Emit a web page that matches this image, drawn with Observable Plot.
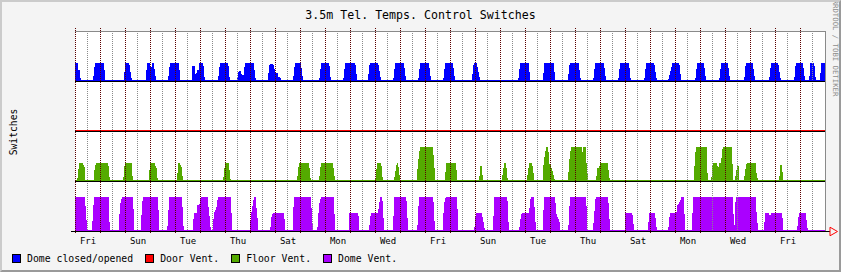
<!DOCTYPE html>
<html><head><meta charset="utf-8">
<script src="https://cdn.jsdelivr.net/npm/d3@7"></script>
<script src="https://cdn.jsdelivr.net/npm/@observablehq/plot@0.6"></script>
<style>
html,body{margin:0;padding:0;background:#fff}
#chart{position:relative;width:841px;height:272px;background:#f4f4f4;font-family:"DejaVu Sans Mono",monospace;overflow:hidden;color:#000}
#frame3d{position:absolute;left:0;top:0;width:841px;height:272px;box-sizing:border-box;border-top:2px solid #cbcbcb;border-left:2px solid #cbcbcb;border-right:2px solid #9a9a9a;border-bottom:2px solid #9a9a9a;pointer-events:none}
#title{position:absolute;left:0;top:5px;width:841px;text-align:center;font-size:11.6px;line-height:20px;white-space:nowrap}
#plot{position:absolute;left:0;top:22px}
#ylab{position:absolute;left:12.5px;top:131.5px;transform:translate(-50%,-50%) rotate(-90deg);font-size:9.7px;white-space:nowrap}
#wm{position:absolute;left:835px;top:48px;transform:translate(-50%,-50%) rotate(90deg);font-size:7.3px;color:#8c8c8c;white-space:nowrap}
#legend{position:absolute;left:12px;top:253px;display:flex;font-size:9.8px;line-height:12px;white-space:nowrap}
#legend .item{display:flex;align-items:flex-start;margin-right:12px}
#legend .sw{display:inline-block;width:9px;height:9px;box-sizing:border-box;border:1px solid #000;margin-top:1px;margin-right:6px}
</style></head>
<body>
<div id="chart">
  <div id="title">3.5m Tel. Temps. Control Switches</div>
  <div id="plot"></div>
  <div id="ylab">Switches</div>
  <div id="wm">RRDTOOL / TOBI OETIKER</div>
  <div id="legend"></div>
  <div id="frame3d"></div>
</div>
<script>
// time in days from the first Friday 00:00, value = switch level
const dayLabels = ["Fri","Sun","Tue","Thu","Sat","Mon","Wed","Fri","Sun","Tue","Thu","Sat","Mon","Wed","Fri"];
const labelDays = [0.5,2.5,4.5,6.5,8.5,10.5,12.5,14.5,16.5,18.5,20.5,22.5,24.5,26.5,28.5];

const domeClosedOpened = [
[0,1],[0.12,1],[0.13,0.6],[0.2,0.6],[0.21,0.15],[0.25,0],
[0.72,0],[0.8,1],[1.16,1],[1.21,0],
[1.96,0],[2.0,1],[2.17,1],[2.27,0],
[2.83,0],[2.88,1],[2.99,1],[3.0,0.8],[3.07,0.8],[3.08,1],[3.15,1],[3.24,0],
[3.72,0],[3.8,1],[4.16,1],[4.21,0],
[4.69,0],[4.7,0.83],[4.78,0.83],[4.79,0.39],[4.86,0.39],[4.87,0.61],[4.94,0.61],[4.95,1],[5.13,1],[5.19,0],
[5.72,0],[5.8,1],[6.13,1],[6.19,0],
[6.49,0],[6.52,0.4],[6.6,0.6],[6.68,0.3],[6.74,0.3],[6.76,0.6],[6.8,1],[7.15,1],[7.23,0],
[7.72,0],[7.76,0.8],[7.8,0.95],[7.92,0.95],[7.96,0.85],[8.0,0.45],[8.12,0.45],[8.13,0.2],[8.2,0.2],[8.24,0],
[8.72,0],[8.8,1],[9.04,1],[9.12,0],
[9.77,0],[9.85,1],[10.17,1],[10.23,0],
[10.73,0],[10.81,1],[11.21,1],[11.29,0],
[11.71,0],[11.79,1],[12.13,1],[12.24,0],
[12.73,0],[12.81,1],[13.16,1],[13.24,0],
[13.73,0],[13.81,1],[14.16,1],[14.24,0],
[14.73,0],[14.81,1],[15.12,1],[15.2,0],
[15.87,0],[15.95,1],[16.07,1],[16.2,0],
[17.73,0],[17.81,1],[18.16,1],[18.2,0],
[18.72,0],[18.77,1],[19.15,1],[19.21,0],
[19.71,0],[19.79,1],[20.15,1],[20.23,0],
[20.73,0],[20.81,1],[21.16,1],[21.24,0],
[21.73,0],[21.81,1],[22.16,1],[22.23,0],
[22.77,0],[22.85,1],[23.17,1],[23.27,0],
[23.73,0],[23.8,0.4],[23.89,1],[24.17,1],[24.25,0],
[24.81,0],[24.89,1],[25.16,1],[25.24,0],
[25.77,0],[25.85,1],[26.12,1],[26.2,0],
[26.77,0],[26.83,1],[27.11,1],[27.2,0],
[27.77,0],[27.84,1],[28.13,1],[28.23,0],
[28.77,0],[28.83,1],[29.12,1],[29.2,0],
[29.37,0],[29.41,1],[29.57,1],[29.63,0],
[29.8,0],[29.85,1],[30,1]
];

const doorVent = [[0,0],[30,0]];

const floorVent = [
[0,0],
[0.09,0],[0.13,0.55],[0.17,1],[0.33,1],[0.35,0.8],[0.41,0.8],[0.42,0],
[0.74,0],[0.77,0.5],[0.83,1],[1.33,1],[1.36,0.5],[1.39,0],
[1.93,0],[1.99,1],[2.27,1],[2.31,0],
[2.95,0],[3.0,1],[3.21,1],[3.23,0.7],[3.27,0.7],[3.28,0.2],[3.33,0],
[4.07,0],[4.1,0.4],[4.13,1],[4.21,1],[4.23,0.8],[4.27,0.8],[4.29,0.3],[4.33,0],
[5.93,0],[6.0,1],[6.16,1],[6.2,0.2],[6.23,0],
[8.88,0],[8.96,1],[9.36,1],[9.43,0],
[9.76,0],[9.84,1],[10.32,1],[10.4,0],
[12.01,0],[12.09,1],[12.25,1],[12.31,0],
[12.76,0],[12.83,0.6],[12.87,1],[12.92,1],[12.96,0.6],[13.0,0],
[13.66,0],[13.72,1],[13.8,2],[14.31,2],[14.37,1],[14.41,0],
[14.8,0],[14.84,1],[15.24,1],[15.29,0],
[16.16,0],[16.2,0.5],[16.22,0.85],[16.28,0.85],[16.31,0],
[17.07,0],[17.13,0.6],[17.17,1],[17.24,1],[17.27,0.6],[17.31,0],
[18.07,0],[18.13,0.6],[18.17,1],[18.28,1],[18.33,0.6],[18.36,0],
[18.71,0],[18.72,0.6],[18.77,1.3],[18.85,2],[18.93,2],[18.96,1],[19.04,0.85],[19.12,0.4],[19.19,0],
[19.72,0],[19.76,1],[19.84,2],[20.28,2],[20.3,1.7],[20.32,1.7],[20.34,2],[20.43,2],[20.45,1.2],[20.52,0],
[20.85,0],[20.88,0.7],[20.97,0.75],[21.01,1],[21.32,1],[21.35,0.4],[21.39,0],
[24.75,0],[24.77,0.6],[24.81,1.5],[24.84,2],[25.27,2],[25.29,0.6],[25.33,0],
[25.44,0],[25.47,0.3],[25.51,1],[25.69,1],[25.72,0.55],[25.76,1],[25.84,1],[25.87,1.5],[25.91,2],[26.29,2],[26.31,0],
[26.4,0],[26.44,0.45],[26.5,0.85],[26.53,1],[26.56,0.6],[26.58,0],
[26.76,0],[26.8,0.5],[26.87,1],[27.24,1],[27.26,0.4],[27.32,0],
[28.16,0],[28.2,0.5],[28.22,0.9],[28.28,0.9],[28.3,0.5],[28.32,0],
[30,0]
];

const domeVent = [
[0,2],[0.41,2],[0.43,0.9],[0.47,0.5],[0.49,0],
[0.69,0],[0.71,1],[0.77,2],[1.35,2],[1.37,0.7],[1.4,0],
[1.74,0],[1.77,0.8],[1.83,1.8],[1.92,2],[2.3,2],[2.33,1.7],[2.37,0],
[2.63,0],[2.68,1.5],[2.72,2],[3.32,2],[3.35,0.8],[3.37,0],
[3.69,0],[3.73,1],[3.78,2],[4.28,2],[4.3,1.4],[4.33,0.5],[4.35,0],
[4.7,0],[4.73,0.5],[4.76,1],[4.89,1],[4.9,1.5],[4.97,1.5],[5.04,2],[5.31,2],[5.33,1.5],[5.39,0.7],[5.43,0],
[5.52,0],[5.55,1],[5.65,1.3],[5.72,2],[6.22,2],[6.26,1],[6.3,0],
[7.0,0],[7.03,0.8],[7.11,1.5],[7.16,2],[7.23,2],[7.27,1.1],[7.31,0.6],[7.33,0],
[7.81,0],[7.87,0.9],[7.93,1],[8.36,1],[8.39,0.5],[8.4,0],
[8.72,0],[8.75,2],[9.44,2],[9.47,1],[9.52,0],
[9.69,0],[9.74,1],[9.76,1.5],[9.84,2],[10.36,2],[10.4,0],
[10.97,0],[10.98,1],[11.33,1],[11.36,0.5],[11.37,0],
[11.75,0],[11.8,0.5],[11.83,1],[12.12,1],[12.17,1.6],[12.22,2],[12.28,2],[12.32,1.5],[12.36,0],
[12.72,0],[12.77,2],[13.25,2],[13.29,1],[13.33,0],
[13.69,0],[13.76,2],[14.33,2],[14.37,0.8],[14.4,0],
[14.72,0],[14.75,1.5],[14.83,2],[15.27,2],[15.31,1],[15.33,0],
[15.97,0],[16.03,1],[16.27,1],[16.32,0.6],[16.37,0.3],[16.39,0],
[16.72,0],[16.77,2],[17.29,2],[17.33,1],[17.35,0],
[17.77,0],[17.81,0.6],[17.87,1],[18.15,1],[18.2,1.5],[18.23,2],[18.35,2],[18.4,1],[18.44,0],
[18.7,0],[18.75,1.5],[18.77,2],[19.2,2],[19.25,1],[19.38,0.5],[19.42,0],
[19.73,0],[19.8,2],[20.43,2],[20.47,1.3],[20.5,0],
[20.72,0],[20.77,1],[20.83,2],[21.32,2],[21.37,1],[21.4,0],
[21.98,0],[22.0,1],[22.29,1],[22.33,0.5],[22.37,0],
[22.9,0],[22.95,0.6],[22.97,1],[23.19,1],[23.24,0.5],[23.27,0],
[23.73,0],[23.77,0.7],[23.81,1],[24.05,1],[24.1,1.5],[24.2,1.7],[24.27,2],[24.36,2],[24.4,0],
[24.67,0],[24.73,2],[25.7,2],[25.72,1.3],[25.74,2],[26.32,2],[26.35,0.5],[26.38,0.3],[26.4,1.5],[26.45,2],[27.23,2],[27.27,0.8],[27.33,0],
[27.56,0],[27.6,1],[27.76,1],[27.8,0.85],[27.84,1],[28.29,1],[28.33,0],
[28.88,0],[28.96,1],[29.23,1],[29.27,0.5],[29.31,0],
[30,0]
];

const seriesNames = ["Dome closed/opened","Door Vent.","Floor Vent.","Dome Vent."];
const seriesData = [domeClosedOpened, doorVent, floorVent, domeVent];
const seriesColors = ["#0000ff","#ff0000","#54aa00","#aa00ff"];
const bandOffsets = [9, 6, 3, 0];

const majorDays = d3.range(0, 30, 1);
const minorDays = d3.range(0.5, 30, 1);

const marks = [Plot.frame({fill: "#ffffff", stroke: "none"})];
seriesData.forEach((data, i) => {
  const off = bandOffsets[i];
  marks.push(Plot.areaY(data, {x: d => d[0], y1: () => off, y2: d => off + d[1], fill: seriesColors[i], curve: "linear", dy: -1, shapeRendering: "crispEdges"}));
  marks.push(Plot.ruleY([off], {stroke: seriesColors[i], dy: -1}));
});
marks.push(Plot.ruleX(minorDays, {stroke: "#8a8a8a", strokeDasharray: "1,1", dx: -0.5, shapeRendering: "crispEdges"}));
marks.push(Plot.ruleX(majorDays, {stroke: "#5c0000", strokeDasharray: "1,1", insetTop: -3, insetBottom: -3, shapeRendering: "crispEdges"}));
bandOffsets.forEach((off, i) => {
  if (off !== 0) marks.push(Plot.ruleY([off], {stroke: "#000"}));
});
marks.push(Plot.ruleY([12], {stroke: "#8a8a8a"}));
marks.push(Plot.ruleX([30], {stroke: "#8a8a8a"}));
marks.push(Plot.ruleY([0], {stroke: "#000", insetLeft: -4, insetRight: -5}));
marks.push(Plot.dot([30], {x: d => d, y: () => 0, symbol: "triangle", rotate: 90, r: 3.2, stroke: "#ff0000", fill: "none", strokeWidth: 1, dx: 7}));
marks.push(Plot.axisX(labelDays, {tickSize: 0, tickPadding: 6, tickFormat: (d) => dayLabels[labelDays.indexOf(d)], fontSize: 9}));

const chart = Plot.plot({
  width: 841, height: 228,
  marginTop: 9, marginBottom: 19, marginLeft: 75, marginRight: 16,
  x: {type: "linear", domain: [0, 30], axis: null},
  y: {domain: [0, 12], axis: null},
  style: {background: "transparent", fontFamily: "DejaVu Sans Mono", fontSize: "9px", color: "#000", overflow: "visible"},
  marks
});
document.getElementById("plot").appendChild(chart);

const legend = document.getElementById("legend");
seriesNames.forEach((n, i) => {
  const it = document.createElement("span");
  it.className = "item";
  const sw = document.createElement("span");
  sw.className = "sw";
  sw.style.background = seriesColors[i];
  it.appendChild(sw);
  it.appendChild(document.createTextNode(n));
  legend.appendChild(it);
});
</script>
</body></html>
